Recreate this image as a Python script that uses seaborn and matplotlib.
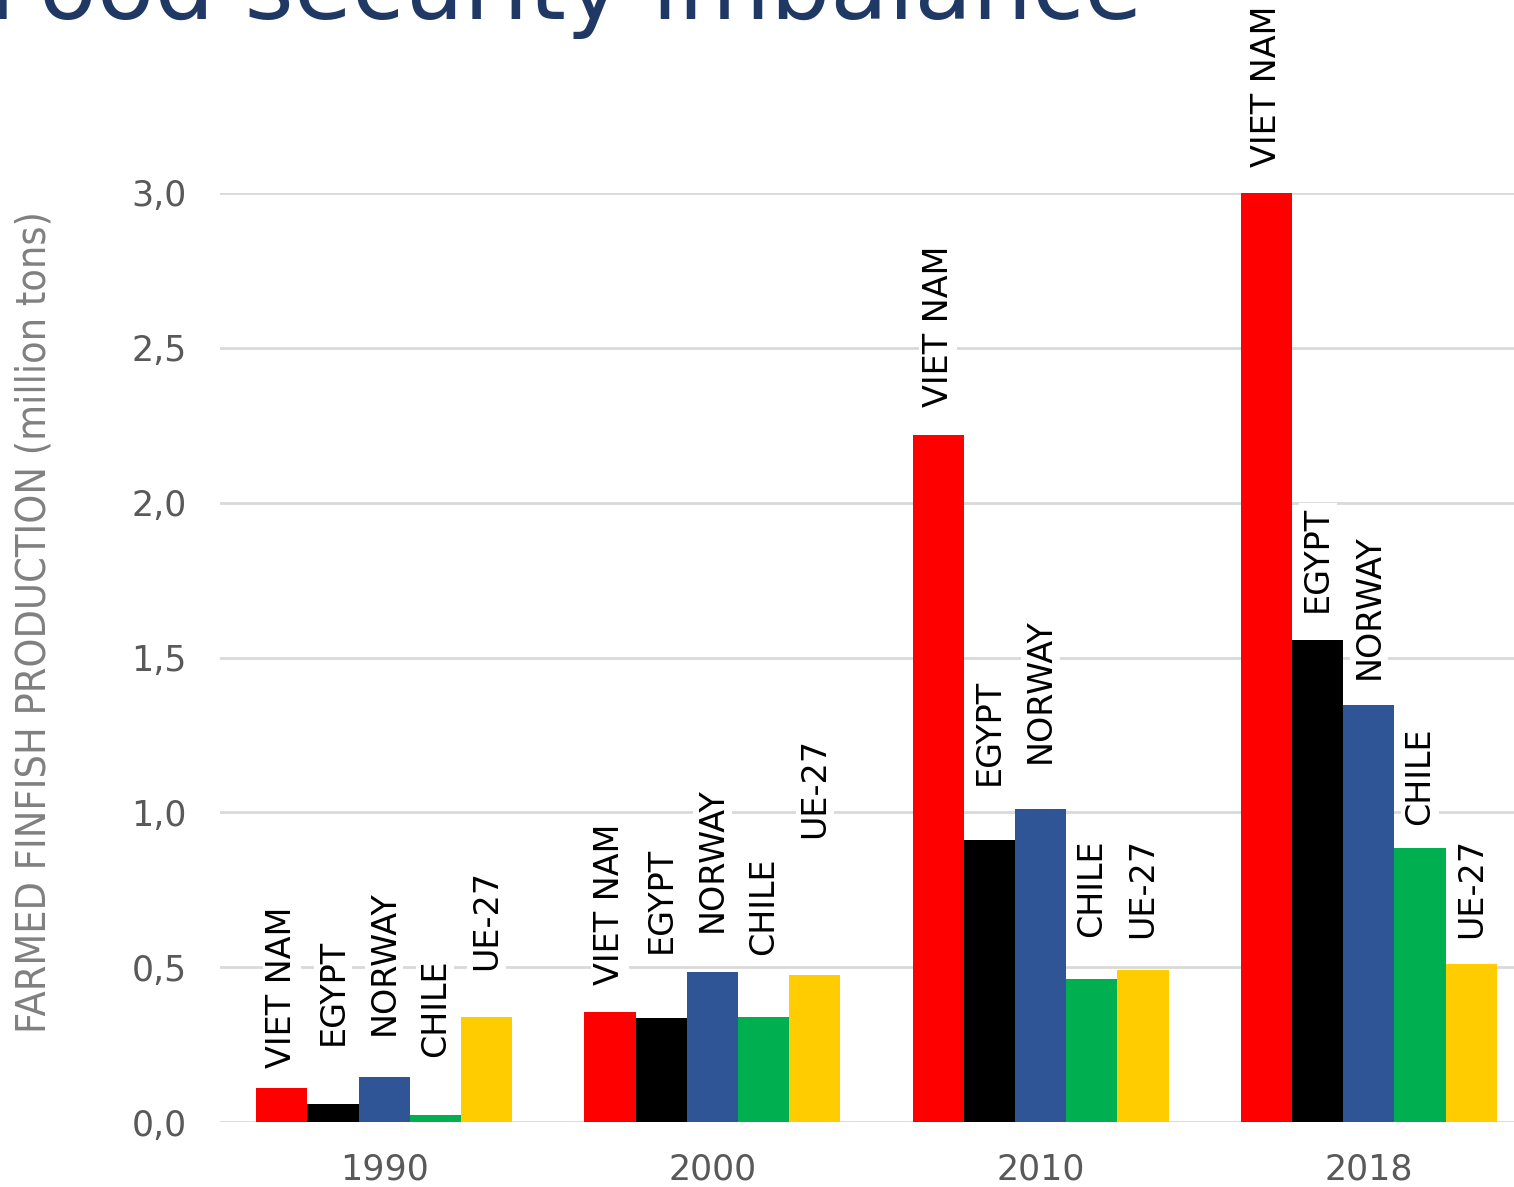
import matplotlib
matplotlib.use("Agg")
import matplotlib.pyplot as plt
import seaborn as sns
import pandas as pd
from matplotlib.ticker import FuncFormatter

years = ["1990", "2000", "2010", "2018"]
countries = ["VIET NAM", "EGYPT", "NORWAY", "CHILE", "UE-27"]
viet_nam = [0.11, 0.355, 2.22, 3.0]
egypt = [0.058, 0.336, 0.91, 1.556]
norway = [0.145, 0.484, 1.01, 1.346]
chile = [0.023, 0.339, 0.462, 0.885]
ue27 = [0.34, 0.475, 0.49, 0.51]
colors = ["#FF0000", "#000000", "#2F5597", "#00B050", "#FFCC00"]
# label offsets above bars (pixels), per country then year
label_offsets_px = [
    [20, 27, 28, 26],
    [59, 65, 55, 28],
    [42, 40, 46, 26],
    [58, 62, 42, 23],
    [47, 137, 32, 26],
]

series = [viet_nam, egypt, norway, chile, ue27]
rows = []
for c, vals in zip(countries, series):
    for y, v in zip(years, vals):
        rows.append({"year": y, "country": c, "value": v})
df = pd.DataFrame(rows)

sns.set_style("white")
plt.rcParams["font.family"] = ["DejaVu Sans"]

DPI = 100
W, H = 1514, 1187
fig = plt.figure(figsize=(W / DPI, H / DPI), dpi=DPI)
ax = fig.add_axes([220 / W, (H - 1122) / H, 1313 / W, (1122 - 193) / H])

sns.barplot(data=df, x="year", y="value", hue="country", order=years,
            hue_order=countries, palette=colors, width=0.78, saturation=1,
            ax=ax, legend=False, linewidth=0, errorbar=None)

ax.set_ylim(0, 3.0)
ax.set_yticks([0, 0.5, 1.0, 1.5, 2.0, 2.5, 3.0])
ax.yaxis.set_major_formatter(FuncFormatter(lambda v, p: f"{v:.1f}".replace(".", ",")))
ax.grid(axis="y", color="#D9D9D9", linewidth=2)
ax.set_axisbelow(True)
for s in ax.spines.values():
    s.set_visible(False)
ax.tick_params(axis="both", length=0, labelsize=25, colors="#595959")
ax.tick_params(axis="y", pad=24)
ax.tick_params(axis="x", pad=22)
ax.set_xlabel("")
ax.set_ylabel("")

for ci, cont in enumerate(ax.containers):
    for yi, bar in enumerate(cont):
        x = bar.get_x() + bar.get_width() / 2
        h = bar.get_height()
        ax.annotate(countries[ci], xy=(x, h),
                    xytext=(0, label_offsets_px[ci][yi] * 72 / DPI),
                    textcoords="offset points", rotation=90, ha="center",
                    va="bottom", fontsize=24, color="black",
                    bbox=dict(facecolor="white", edgecolor="none", pad=2),
                    annotation_clip=False)

fig.text(35 / W, 1 - 622 / H, "FARMED FINFISH PRODUCTION (million tons)",
         rotation=90, ha="center", va="center", fontsize=29.5, color="#808080",
         family=["DejaVu Sans"], fontstretch="condensed")

fig.text(-12 / W, 1 - 19 / H, "Food security imbalance", ha="left",
         va="baseline", fontsize=68, color="#1F3864")

fig.savefig("out.png", dpi=DPI)
